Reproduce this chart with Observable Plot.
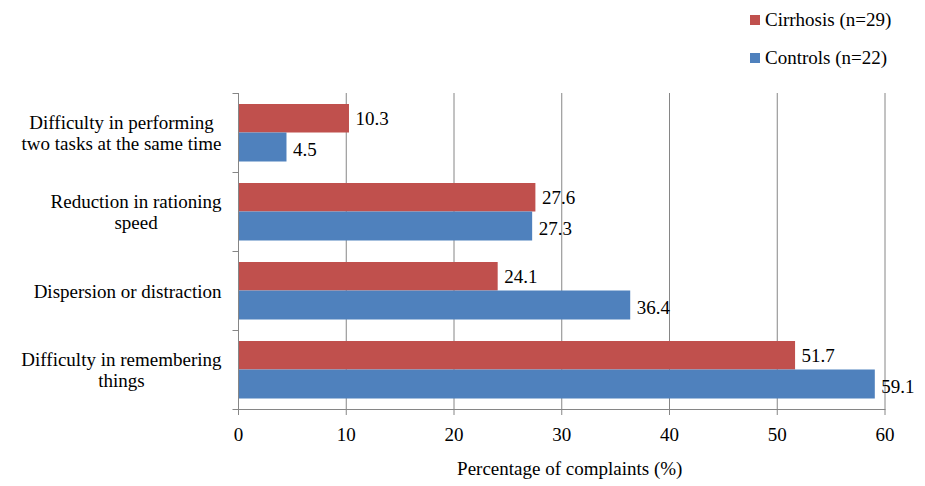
<!DOCTYPE html>
<html><head><meta charset="utf-8">
<script src="https://cdn.jsdelivr.net/npm/d3@7"></script>
<script src="https://cdn.jsdelivr.net/npm/@observablehq/plot@0.6"></script>
<style>
body{margin:0;background:#fff;font-family:"Liberation Serif","Times New Roman",serif;}
#wrap{width:925px;}
#legend{position:relative;height:80px;font-size:19px;color:#000}
.item{position:absolute;left:750px;display:flex;align-items:center;height:20px;white-space:nowrap}
.sw{width:10px;height:10px;margin-right:5px}
#chart svg, #chart svg text, #chart svg tspan{font-family:"Liberation Serif","Times New Roman",serif !important;}
</style></head><body>
<div id="wrap"><div id="legend"></div><div id="chart"></div></div>
<script>
const categories = ["Difficulty in performing\ntwo tasks at the same time", "Reduction in rationing\nspeed", "Dispersion or distraction", "Difficulty in remembering\nthings"];
const series = ["Cirrhosis (n=29)", "Controls (n=22)"];
const cirrhosis = [10.3, 27.6, 24.1, 51.7];
const controls = [4.5, 27.3, 36.4, 59.1];
const xTicks = [0, 10, 20, 30, 40, 50, 60];
const colors = ["#C0504D", "#4F81BD"];
const xLabel = "Percentage of complaints (%)";

const FONT = "Liberation Serif";
const FONTCSS = "'Liberation Serif', 'Times New Roman', serif";
const FS = 19;
const gray = "#868686";

// legend
const legend = document.getElementById("legend");
series.forEach((s, i) => {
  const it = document.createElement("div");
  it.className = "item";
  it.style.top = (10 + i * 38) + "px";
  const sw = document.createElement("span");
  sw.className = "sw";
  sw.style.background = colors[i];
  it.appendChild(sw);
  it.appendChild(document.createTextNode(s));
  legend.appendChild(it);
});

const rows = [];
categories.forEach((c, i) => {
  rows.push({cat: c, series: series[0], value: cirrhosis[i]});
  rows.push({cat: c, series: series[1], value: controls[i]});
});
const redRows = rows.filter(d => d.series === series[0]);
const blueRows = rows.filter(d => d.series === series[1]);

const height = 406, marginTop = 13, marginBottom = 77;
const band = (height - marginTop - marginBottom) / categories.length;

// measure label widths for centered multi-line category labels
const ctx = document.createElement("canvas").getContext("2d");
ctx.font = `${FS}px ${FONTCSS}`;
const labelMarks = categories.map(c => {
  const w = Math.max(...c.split("\n").map(l => ctx.measureText(l).width));
  return Plot.text([c], {y: d => d, text: d => d, frameAnchor: "left", textAnchor: "middle",
    dx: -17 - w / 2, lineHeight: 1.1, fontSize: FS, fontFamily: FONT, fill: "black"});
});

const chart = Plot.plot({
  width: 925,
  height,
  marginTop,
  marginBottom,
  marginLeft: 238,
  marginRight: 40.5,
  style: {fontSize: FS + "px", color: "black", background: "white"},
  x: {domain: [0, 60], axis: null},
  y: {type: "band", domain: categories, padding: 0, axis: null},
  marks: [
    Plot.ruleX(xTicks.slice(1), {stroke: gray}),
    Plot.barX(redRows, {x: "value", y: "cat", fill: colors[0], insetTop: 11, insetBottom: 39.5}),
    Plot.barX(blueRows, {x: "value", y: "cat", fill: colors[1], insetTop: 39.5, insetBottom: 10.5}),
    Plot.ruleX([0], {stroke: gray}),
    Plot.frame({anchor: "bottom", stroke: gray}),
    Plot.ruleY(categories, {y: d => d, x1: 0, x2: 0, insetLeft: -5.5, dy: -band / 2, stroke: gray}),
    Plot.ruleY([categories[categories.length - 1]], {y: d => d, x1: 0, x2: 0, insetLeft: -5.5, dy: band / 2, stroke: gray}),
    Plot.axisX(xTicks, {tickSize: 6, tickPadding: 12, fontSize: FS, fontFamily: FONT, stroke: gray, fill: "black", label: null}),
    Plot.text(redRows, {x: "value", y: "cat", text: d => d.value.toFixed(1), dx: 6, dy: -14.5, textAnchor: "start", fontSize: FS, fontFamily: FONT, fill: "black"}),
    Plot.text(blueRows, {x: "value", y: "cat", text: d => d.value.toFixed(1), dx: 6, dy: 17, textAnchor: "start", fontSize: FS, fontFamily: FONT, fill: "black"}),
    ...labelMarks,
    Plot.text([xLabel], {frameAnchor: "bottom", dy: 65, dx: 8, fontSize: FS, fontFamily: FONT, fill: "black"})
  ]
});
chart.querySelectorAll("text, tspan, g").forEach(t => t.style.setProperty("font-family", FONTCSS, "important"));
chart.setAttribute("font-family", FONT);
document.getElementById("chart").appendChild(chart);
</script>
</body></html>
